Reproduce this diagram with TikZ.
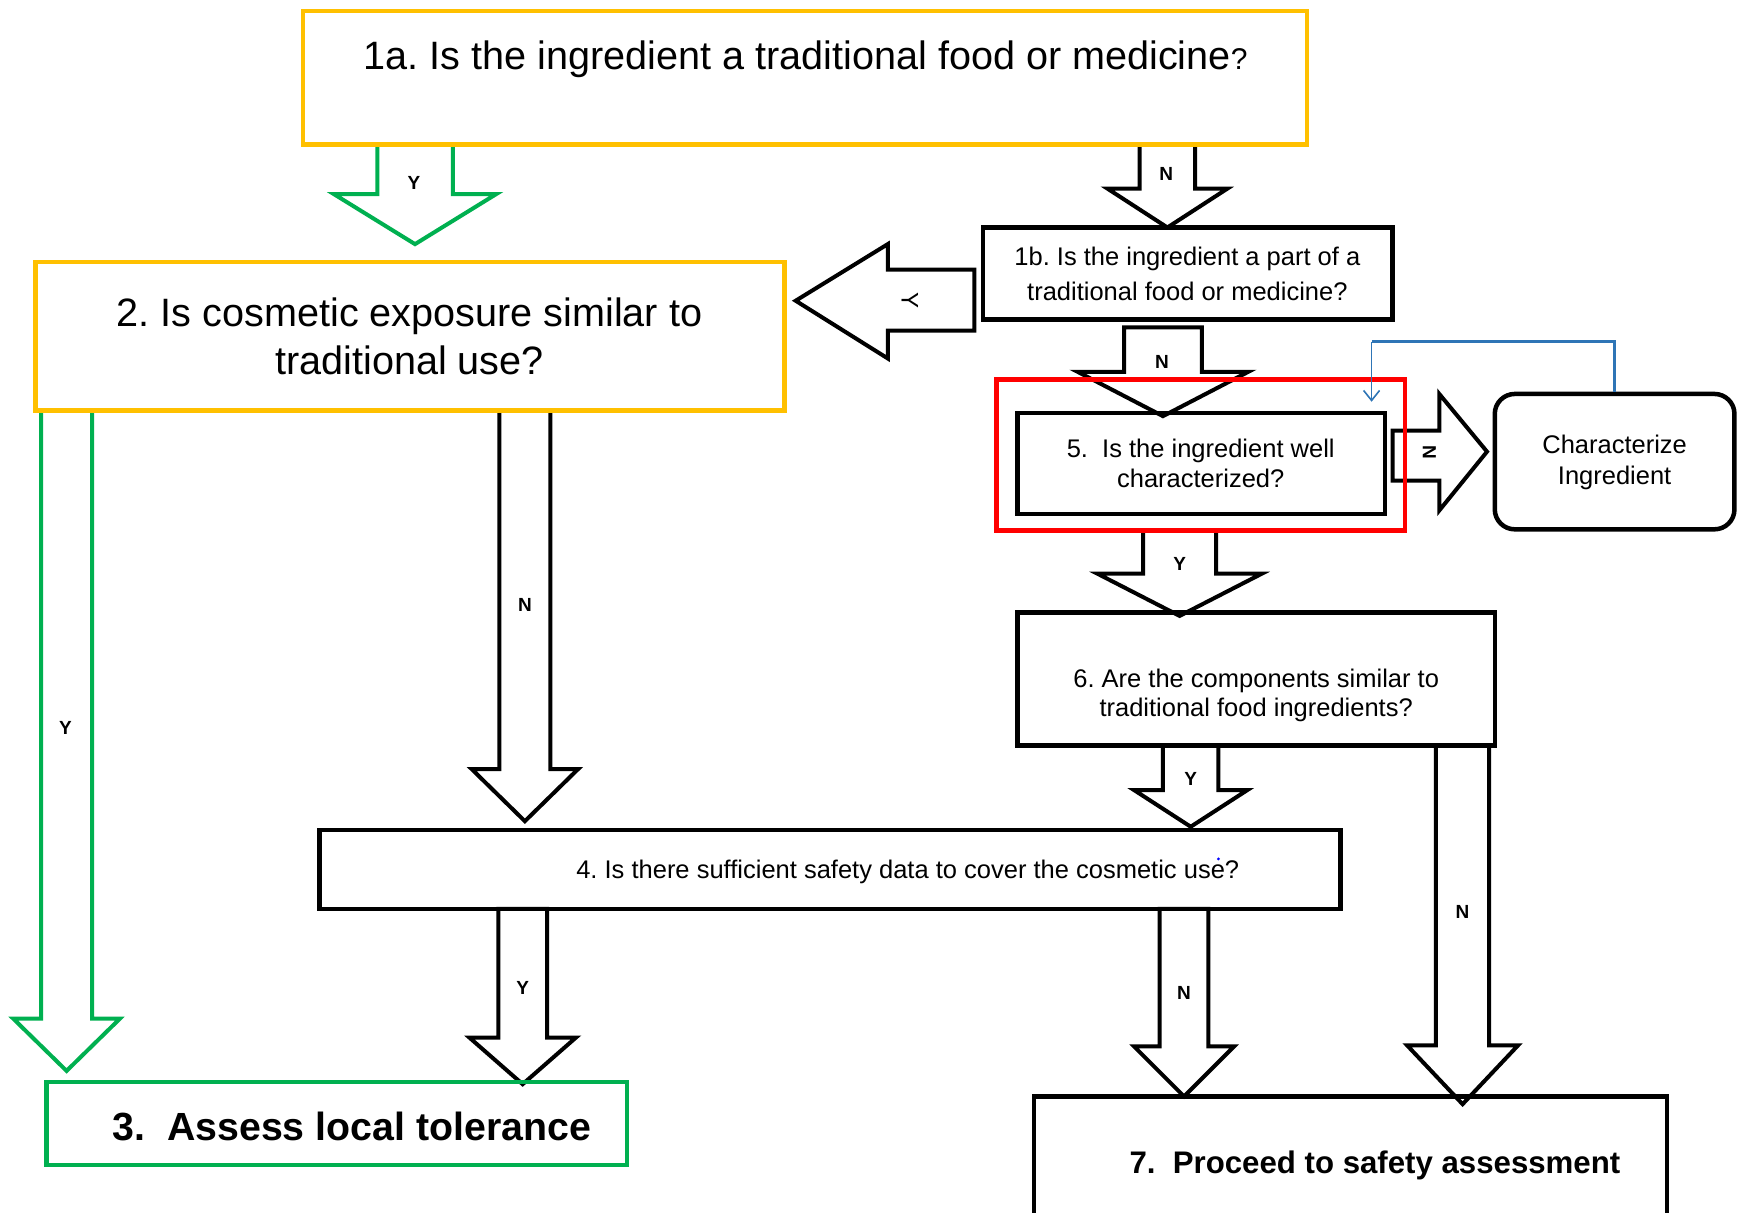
\documentclass[tikz,border=0pt]{standalone}
\usepackage{fontspec}
\setmainfont{Liberation Sans}
\usetikzlibrary{fit,arrows.meta}
\definecolor{orng}{HTML}{FFC000}
\definecolor{grn}{HTML}{00B050}
\definecolor{blu}{HTML}{2E75B6}
\definecolor{redc}{HTML}{FF0000}
\frenchspacing
% #1 cx, #2 top y, #3 head base y, #4 tip y, #5 shaft half width, #6 head half width, #7 colour
\newcommand{\bdown}[7]{%
  \draw[barrow, draw=#7] ({#1-#5},#2) -- ({#1-#5},#3) -- ({#1-#6},#3) -- (#1,#4)
     -- ({#1+#6},#3) -- ({#1+#5},#3) -- ({#1+#5},#2);
}
\tikzset{
  bx/.style={draw=black, line width=4.5pt, inner sep=0pt},
  obox/.style={draw=orng, line width=4.5pt, inner sep=0pt},
  gbox/.style={draw=grn, line width=4.5pt, inner sep=0pt},
  barrow/.style={line width=4pt, fill=white, line join=miter},
  lbl/.style={font=\fontsize{19}{21}\selectfont\bfseries, inner sep=0pt},
  bigtxt/.style={font=\fontsize{39.6}{47.5}\selectfont, align=center, inner sep=0pt},
  smtxt/.style={font=\fontsize{25.5}{#1}\selectfont, align=center, inner sep=0pt},
}
\begin{document}
\begin{tikzpicture}[x=1.1097pt, y=-1.1097pt]
\useasboundingbox (0,0) rectangle (1568,1093);
\clip (0,0) rectangle (1568,1093);
\fill[white] (0,0) rectangle (1568,1093);

% ---- block arrows (drawn first) ----
\bdown{374}{130}{175}{220}{34}{73}{grn}
\bdown{1052}{130}{170}{205}{25}{54}{black}
\draw[barrow] (1013,295) -- (1013,335) -- (971,335) -- (1048,375) -- (1125,335) -- (1083,335) -- (1083,295) -- cycle;
\bdown{60}{370}{918}{965}{23}{48}{grn}
\bdown{473}{370}{693}{740}{23}{48}{black}
\bdown{1063}{478}{517}{555}{33}{74}{black}
\bdown{1073}{672}{712}{745}{25}{51}{black}
\bdown{1318}{672}{942}{995}{24}{50}{black}
\draw[barrow] (449,819) -- (449,935) -- (423,935) -- (471,977) -- (519,935) -- (493,935) -- (493,819) -- cycle;
\draw[barrow] (1045,819) -- (1045,943) -- (1022,943) -- (1067,988) -- (1112,943) -- (1089,943) -- (1089,819) -- cycle;
% left arrow from 1b
\draw[barrow] (878,243) -- (800,243) -- (800,220) -- (717,271) -- (800,323) -- (800,298) -- (878,298) -- cycle;
% right arrow from 5
\draw[barrow] (1255,388) -- (1297,388) -- (1297,355) -- (1340,407) -- (1297,460) -- (1297,433) -- (1255,433) -- cycle;

% ---- boxes ----
\node[obox, fit={(273,10) (1178,130)}] (n1a) {};
\node[bx, fit={(886,205) (1255,288)}] (n1b) {};
\node[obox, fit={(32,236) (707,370)}] (n2) {};
\node[bx, fit={(917,372) (1248,463)}] (n5) {};
\node[bx, rounded corners=20pt, fit={(1347,355) (1563,477)}] (nch) {};
\node[bx, fit={(917,552) (1347,672)}] (n6) {};
\node[bx, fit={(288,748) (1208,819)}] (n4) {};
\node[gbox, fit={(42,975) (565,1050)}] (n3) {};
\node[bx, fit={(932,988) (1502,1120)}] (n7) {};
\node[draw=redc, line width=4.5pt, inner sep=0pt, fit={(898,342) (1266,478)}] (nred) {};

% ---- texts ----
\node[bigtxt] (t1a) at (726,53) {1a. Is the ingredient a traditional food or medicine{\fontsize{30}{36}\selectfont ?}};
\node[smtxt=35.5] (t1b) at (1070,247) {1b. Is the ingredient a part of a\\traditional food or medicine?};
\node[bigtxt] (t2) at (369,303) {2. Is cosmetic exposure similar to\\traditional use?};
\node[smtxt=30] (t5) at (1082,418) {5.\ \ Is the ingredient well\\characterized?};
\node[smtxt=31] (tch) at (1455,417) {Characterize\\Ingredient};
\node[smtxt=29] (t6) at (1132,627) {6. Are the components similar to\\traditional food ingredients?};
\node[smtxt=30] (t4) at (818,786) {4. Is there sufficient safety data to cover the cosmetic use?};
\node[font=\fontsize{39.3}{47}\selectfont\bfseries, inner sep=0pt] (t3) at (317,1015) {3.\ \ Assess local tolerance};
\node[font=\fontsize{31.2}{37}\selectfont\bfseries, inner sep=0pt] (t7) at (1239,1050) {7.\ \ Proceed to safety assessment};
\fill[blue] (1098,774) circle (1.4);

% ---- arrow labels ----
\node[lbl] (l1) at (373,165) {Y};
\node[lbl] (l2) at (1051,157) {N};
\node[lbl] (l3) at (1047,326) {N};
\node[lbl] (l4) at (59,656) {Y};
\node[lbl] (l5) at (473,545) {N};
\node[lbl] (l6) at (1063,508) {Y};
\node[lbl] (l7) at (1073,702) {Y};
\node[lbl] (l8) at (1318,822) {N};
\node[lbl] (l9) at (471,890) {Y};
\node[lbl] (l10) at (1067,895) {N};
\node[lbl, rotate=-90, font=\fontsize{24}{26}\selectfont] (l11) at (820,271) {Y};
\node[lbl, rotate=-90] (l12) at (1288,408) {N};

% ---- blue feedback connector ----
\coordinate (bcorner) at (1236,308);
\coordinate (btip) at (1236,362);
\draw[blu, line width=2.6pt] (nch.north) |- (bcorner);
\draw[blu, line width=1.6pt, -{Straight Barb[length=10pt, width=16pt, line width=1.6pt]}] (bcorner) -- (btip);
\end{tikzpicture}
\end{document}
